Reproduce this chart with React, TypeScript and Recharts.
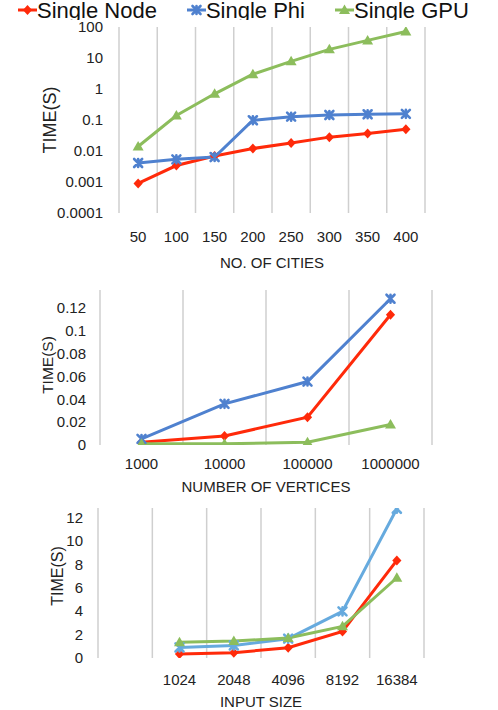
import { LineChart, Line, XAxis, YAxis, CartesianGrid, Legend } from "recharts";

// chart 1: time vs number of cities (log scale)
const cities = ["50", "100", "150", "200", "250", "300", "350", "400"];
const nodeByCities = [0.0009, 0.0034, 0.0069, 0.012, 0.018, 0.028, 0.037, 0.05];
const phiByCities = [0.0041, 0.0054, 0.0064, 0.098, 0.128, 0.145, 0.153, 0.158];
const gpuByCities = [0.014, 0.14, 0.7, 3, 7.8, 19, 37, 72];
const logTicks = [0.0001, 0.001, 0.01, 0.1, 1, 10, 100];

// chart 2: time vs number of vertices
const vertices = ["1000", "10000", "100000", "1000000"];
const nodeByVertices = [0.0024, 0.0079, 0.0243, 0.114];
const phiByVertices = [0.0053, 0.036, 0.0555, 0.128];
const gpuByVertices = [0.001, 0.001, 0.0025, 0.018];
const vertexTicks = [0, 0.02, 0.04, 0.06, 0.08, 0.1, 0.12, 0.14];

// chart 3: time vs input size (first slot is empty in the original)
const inputSizes = ["", "1024", "2048", "4096", "8192", "16384"];
const nodeByInput = [null, 0.34, 0.45, 0.88, 2.27, 8.33];
const phiByInput = [null, 0.9, 1.07, 1.65, 3.98, 12.74];
const gpuByInput = [null, 1.35, 1.45, 1.7, 2.7, 6.85];
const inputTicks = [0, 2, 4, 6, 8, 10, 12, 14];

const seriesNames = ["Single Node", "Single Phi", "Single GPU"];

const RED = "#ff2a0a";
const BLUE = "#4f81cf";
const LIGHT_BLUE = "#66aade";
const GREEN = "#8cbd5c";
const FONT = "'Liberation Sans', Arial, sans-serif";
const TEXT = "#222";

type Row = { x: string; node: number | null; phi: number | null; gpu: number | null };

const buildRows = (xs: string[], node: (number | null)[], phi: (number | null)[], gpu: (number | null)[]): Row[] =>
  xs.map((x, i) => ({ x, node: node[i], phi: phi[i], gpu: gpu[i] }));

const citiesRows = buildRows(cities, nodeByCities, phiByCities, gpuByCities);
const verticesRows = buildRows(vertices, nodeByVertices, phiByVertices, gpuByVertices);
const inputRows = buildRows(inputSizes, nodeByInput, phiByInput, gpuByInput);

type Shape = "diamond" | "x" | "triangle";
const shapeOf: Record<string, Shape> = { node: "diamond", phi: "x", gpu: "triangle" };

function Marker({ cx, cy, shape, color }: { cx?: number; cy?: number; shape: Shape; color: string }) {
  if (cx == null || cy == null || isNaN(cy)) return <g />;
  if (shape === "diamond") {
    return <path d={`M${cx},${cy - 5}L${cx + 4.6},${cy}L${cx},${cy + 5}L${cx - 4.6},${cy}Z`} fill={color} />;
  }
  if (shape === "triangle") {
    return <path d={`M${cx},${cy - 5.5}L${cx + 5.5},${cy + 4}L${cx - 5.5},${cy + 4}Z`} fill={color} />;
  }
  return (
    <path
      d={`M${cx - 4},${cy - 4}L${cx + 4},${cy + 4}M${cx + 4},${cy - 4}L${cx - 4},${cy + 4}M${cx},${cy - 4}L${cx},${cy + 4}`}
      stroke={color}
      strokeWidth={2.6}
      strokeLinecap="round"
    />
  );
}

const dotOf = (shape: Shape, color: string) => (p: any) =>
  <Marker key={`${shape}-${p.index}`} cx={p.cx} cy={p.cy} shape={shape} color={color} />;

// vertical grid lines sit on the category boundaries, not on the ticks
const bandEdges = (n: number) => ({ offset }: any) =>
  Array.from({ length: n + 1 }, (_, i) => offset.left + (i * offset.width) / n);

const xTitle = (text: string, dy: number) => (props: any) => {
  const vb = props.viewBox;
  return (
    <text x={vb.x + vb.width / 2} y={vb.y + dy} textAnchor="middle" dominantBaseline="central"
      fontSize={15} fontFamily={FONT} fill={TEXT}>
      {text}
    </text>
  );
};

const yTitle = (left: number, size: number) => (props: any) => {
  const vb = props.viewBox;
  const cx = vb.x + left;
  const cy = vb.y + vb.height / 2;
  return (
    <text x={cx} y={cy} transform={`rotate(-90 ${cx} ${cy})`} textAnchor="middle" dominantBaseline="central"
      fontSize={size} fontFamily={FONT} fill={TEXT}>
      TIME(S)
    </text>
  );
};

const LegendRow = (props: any) => {
  const items = [...(props.payload || [])].sort(
    (a: any, b: any) => seriesNames.indexOf(a.value) - seriesNames.indexOf(b.value)
  );
  return (
    <div style={{ height: 20, overflow: "hidden", display: "flex", alignItems: "flex-start", paddingLeft: 18, background: "#fff", whiteSpace: "nowrap" }}>
      {items.map((p: any) => (
        <div key={p.value} style={{ display: "flex", alignItems: "flex-start", marginRight: 30 }}>
          <svg width={19} height={20} style={{ display: "block" }}>
            <line x1={0} y1={10} x2={19} y2={10} stroke={p.color} strokeWidth={3} />
            <Marker cx={9.5} cy={10} shape={shapeOf[p.dataKey] || "diamond"} color={p.color} />
          </svg>
          <span style={{ display: "block", fontSize: 22, lineHeight: "22px", fontFamily: FONT, color: "#111" }}>{p.value}</span>
        </div>
      ))}
    </div>
  );
};

const tickStyle = { fontSize: 15, fill: TEXT, fontFamily: FONT };

function series(blue: string) {
  return [
    <Line key="node" dataKey="node" name={seriesNames[0]} stroke={RED} strokeWidth={3} dot={dotOf("diamond", RED)} activeDot={false} isAnimationActive={false} />,
    <Line key="phi" dataKey="phi" name={seriesNames[1]} stroke={blue} strokeWidth={3} dot={dotOf("x", blue)} activeDot={false} isAnimationActive={false} />,
    <Line key="gpu" dataKey="gpu" name={seriesNames[2]} stroke={GREEN} strokeWidth={3} dot={dotOf("triangle", GREEN)} activeDot={false} isAnimationActive={false} />,
  ];
}

export default function App() {
  return (
    <div style={{ position: "absolute", left: 0, top: 0, width: 498, height: 710, background: "#fff", overflow: "hidden" }}>
      {/* cities, log scale */}
      <div style={{ position: "absolute", left: 0, top: 0, width: 498, height: 276, overflow: "hidden" }}>
        <LineChart width={498} height={276} data={citiesRows} margin={{ top: 7, right: 73, bottom: 0, left: 0 }}>
          <CartesianGrid horizontal={false} stroke="#cfcfcf" strokeWidth={1.5}
            verticalCoordinatesGenerator={bandEdges(cities.length)} />
          <XAxis dataKey="x" scale="band" interval={0} axisLine={false} tickLine={false} tickSize={0} tickMargin={18}
            height={63} tick={tickStyle} label={xTitle("NO. OF CITIES", 49.5)} />
          <YAxis scale="log" domain={[0.0001, 100]} ticks={logTicks} allowDataOverflow interval={0} width={119}
            axisLine={false} tickLine={false} tickSize={0} tickMargin={16} tick={tickStyle}
            tickFormatter={(v: number) => String(v)} label={yTitle(50, 18)} />
          <Legend verticalAlign="top" align="left" content={LegendRow} wrapperStyle={{ top: 0, left: 0, width: 498 }} />
          {series(BLUE)}
        </LineChart>
      </div>

      {/* vertices */}
      <div style={{ position: "absolute", left: 0, top: 290, width: 498, height: 215, overflow: "hidden" }}>
        <div style={{ position: "absolute", left: 0, top: -15 }}>
          <LineChart width={498} height={225} data={verticesRows} margin={{ top: 10, right: 66, bottom: 0, left: 0 }}>
            <CartesianGrid horizontal={false} stroke="#cfcfcf" strokeWidth={1.5}
              verticalCoordinatesGenerator={bandEdges(vertices.length)} />
            <XAxis dataKey="x" scale="band" interval={0} axisLine={false} tickLine={false} tickSize={0} tickMargin={13}
              height={55} tick={tickStyle} label={xTitle("NUMBER OF VERTICES", 41)} />
            <YAxis domain={[0, 0.14]} ticks={vertexTicks} allowDataOverflow interval={0} width={100}
              axisLine={false} tickLine={false} tickSize={0} tickMargin={14} tick={tickStyle}
              label={yTitle(47, 15.5)} />
            {series(BLUE)}
          </LineChart>
        </div>
      </div>

      {/* input size */}
      <div style={{ position: "absolute", left: 0, top: 508, width: 498, height: 202, overflow: "hidden" }}>
        <div style={{ position: "absolute", left: 0, top: -23 }}>
          <LineChart width={498} height={225} data={inputRows} margin={{ top: 9, right: 74, bottom: 0, left: 0 }}>
            <CartesianGrid horizontal={false} stroke="#cfcfcf" strokeWidth={1.5}
              verticalCoordinatesGenerator={bandEdges(inputSizes.length)} />
            <XAxis dataKey="x" scale="band" interval={0} axisLine={false} tickLine={false} tickSize={0} tickMargin={16}
              height={52} tick={tickStyle} label={xTitle("INPUT SIZE", 43.5)} />
            <YAxis domain={[0, 14]} ticks={inputTicks} allowDataOverflow interval={0} width={98}
              axisLine={false} tickLine={false} tickSize={0} tickMargin={15} tick={tickStyle}
              label={yTitle(57, 16)} />
            {series(LIGHT_BLUE)}
          </LineChart>
        </div>
      </div>
    </div>
  );
}
